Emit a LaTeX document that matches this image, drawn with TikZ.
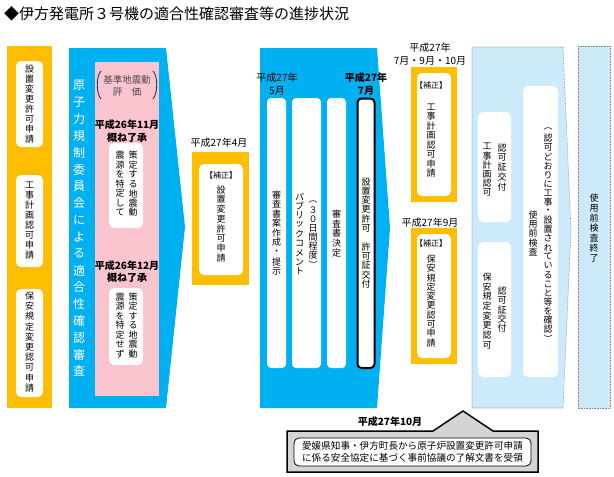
\documentclass[tikz,border=0pt]{standalone}
\usepackage{fontspec}
\setmainfont{Noto Sans CJK JP}
\definecolor{orng}{RGB}{255,190,0}
\definecolor{blu}{RGB}{0,176,240}
\definecolor{pnk}{RGB}{250,196,206}
\definecolor{lblu}{RGB}{204,234,250}
\definecolor{calgray}{RGB}{212,212,212}
\definecolor{brk}{RGB}{40,50,110}
\newlength\vtp
\def\vtstop{\vtstop}
\def\vtloop#1{\ifx#1\vtstop\else\vbox to\vtp{\vss\hbox to 1em{\hss#1\hss}\vss}\expandafter\vtloop\fi}
\newcommand\vtext[2][9.6pt]{\setlength\vtp{#1}\vbox{\offinterlineskip\vtloop#2\vtstop}}
\tikzset{
  lab/.style={inner sep=0pt, font=\fontsize{10}{13}\selectfont, align=center},
  vt/.style={inner sep=0pt, font=\fontsize{9}{10}\selectfont},
  wbox/.style={fill=white, rounded corners=5pt},
  lbshape/.style={fill=lblu, draw=gray, densely dotted, line width=0.6pt},
}
\begin{document}
\begin{tikzpicture}[x=1pt,y=-1pt]
\useasboundingbox (0,0) rectangle (614,477);
\fill[white] (0,0) rectangle (614,477);
% title
\node[anchor=west, inner sep=0pt, font=\fontsize{15}{15}\selectfont] (title) at (4,14) {◆伊方発電所３号機の適合性確認審査等の進捗状況};

% left orange column
\fill[orng] (7,46) rectangle (52,408);
\fill[wbox] (16,61) rectangle (43,147);
\fill[wbox] (16,175) rectangle (43,267);
\fill[wbox] (16,289) rectangle (43,397);
\node[vt] (l1) at (29.5,104.5) {\vtext[10pt]{設置変更許可申請}};
\node[vt] (l2) at (29.5,220) {\vtext[10pt]{工事計画認可申請}};
\node[vt] (l3) at (29.5,342) {\vtext[10.2pt]{保安規定変更認可申請}};

% blue pentagon 1
\fill[blu] (69,48) -- (166,48) -- (185,227) -- (166,408) -- (69,408) -- cycle;
\node[vt, text=white, font=\fontsize{12}{12}\selectfont] (nra) at (79,228.5) {\vtext[16.8pt]{原子力規制委員会による適合性確認審査}};
\fill[pnk] (95,62) rectangle (159,396);
\draw[brk, line width=0.9pt] (101,71) .. controls (96,76) and (96,93) .. (101,99);
\draw[brk, line width=0.9pt] (153,71) .. controls (158,76) and (158,93) .. (153,99);
\node[lab, font=\fontsize{9.5}{12}\selectfont, text=black!70] (kijun) at (127,86) {基準地震動\\評　価};
\node[lab, font=\bfseries\fontsize{10}{12.5}\selectfont] (d1) at (127,131) {平成26年11月\\概ね了承};
\fill[wbox] (109,143) rectangle (143,228);
\node[vt] (p1r) at (133,184) {\vtext[9.5pt]{策定する地震動}};
\node[vt] (p1l) at (120,184) {\vtext[9.5pt]{震源を特定して}};
\node[lab, font=\bfseries\fontsize{10}{12.5}\selectfont] (d2) at (127,271.5) {平成26年12月\\概ね了承};
\fill[wbox] (109,288) rectangle (143,365);
\node[vt] (p2r) at (133,325.5) {\vtext[9.5pt]{策定する地震動}};
\node[vt] (p2l) at (120,325.5) {\vtext[9.5pt]{震源を特定せず}};

% orange box 2015.4
\node[lab] (d4) at (219,143) {平成27年4月};
\fill[orng] (192,152) rectangle (249,285);
\fill[wbox] (199,164) rectangle (243,275);
\node[lab, font=\fontsize{8}{8}\selectfont] (h1) at (221,175) {【補正】};
\node[vt] (o2) at (221,224) {\vtext[9.7pt]{設置変更許可申請}};

% blue pentagon 2
\fill[blu] (260,48) -- (377,48) -- (390,228) -- (377,408) -- (260,408) -- cycle;
\node[lab] (d5) at (277,84.5) {平成27年\\5月};
\node[lab, font=\bfseries\fontsize{10}{13}\selectfont] (d7) at (366,84.5) {平成27年\\7月};
\fill[wbox, rounded corners=4pt] (267,98) rectangle (286,368);
\fill[wbox, rounded corners=4pt] (292,98) rectangle (321,368);
\fill[wbox, rounded corners=4pt] (327,98) rectangle (346,368);
\filldraw[fill=white, draw=black, line width=2pt, rounded corners=4pt] (357.5,98.5) rectangle (374.5,368);
\node[vt] (c1) at (276.5,233) {\vtext{審査書案作成・提示}};
\node[vt] (c2l) at (299.5,234) {\vtext[9.4pt]{パブリックコメント}};
\node[vt] (c2r) at (313,233) {\vtext[9pt]{︵３０日間程度︶}};
\node[vt] (c3) at (336.5,233.5) {\vtext{審査書決定}};
\node[vt] (c4) at (366,233) {\vtext[9.3pt]{設置変更許可　許可証交付}};

% orange box 3
\node[lab] (d79) at (430,54.5) {平成27年\\7月・9月・10月};
\fill[orng] (411,67) rectangle (457,202);
\fill[wbox] (417,73) rectangle (451,196);
\node[lab, font=\fontsize{8}{8}\selectfont] (h2) at (431,85) {【補正】};
\node[vt] (o3) at (431,140) {\vtext[9.5pt]{工事計画認可申請}};

% orange box 4
\node[lab] (d9) at (430,223) {平成27年9月};
\fill[orng] (411,228) rectangle (457,364);
\fill[wbox] (417,234) rectangle (451,358);
\node[lab, font=\fontsize{8}{8}\selectfont] (h3) at (431,243) {【補正】};
\node[vt] (o4) at (431,301) {\vtext[9.3pt]{保安規定変更認可申請}};

% light blue pentagon
\path[lbshape] (472,47) -- (563,47) -- (571,230) -- (563,408) -- (472,408) -- cycle;
\fill[wbox] (478,112) rectangle (511,222);
\fill[wbox] (478,242) rectangle (511,377);
\fill[wbox] (523,86) rectangle (558,377);
\node[vt] (ar) at (502,167.5) {\vtext[9.8pt]{認可証交付}};
\node[vt] (al) at (487,169.5) {\vtext[9.2pt]{工事計画認可}};
\node[vt] (br) at (502,310) {\vtext[9.3pt]{認可証交付}};
\node[vt] (bl) at (487,311) {\vtext[9.7pt]{保安規定変更認可}};
\node[vt] (cr) at (548,234) {\vtext[9.1pt]{︵認可どおりに工事・設置されていること等を確認︶}};
\node[vt] (cl) at (533,233.5) {\vtext[9.4pt]{使用前検査}};

% right rectangle
\path[lbshape] (578,46) rectangle (610,408);
\node[vt] (fin) at (594,228) {\vtext[10pt]{使用前検査終了}};

% callout
\filldraw[fill=calgray, draw=black, line width=1.5pt, line join=miter] (287,431) -- (433,431) -- (463,411) -- (493,431) -- (538,431) -- (538,472) -- (287,472) -- cycle;
\filldraw[fill=white, draw=black, line width=0.8pt, rounded corners=5pt] (294,438) rectangle (531,466);
\node[lab, font=\fontsize{9.6}{12}\selectfont] (cb) at (412.5,452) {愛媛県知事・伊方町長から原子炉設置変更許可申請\\に係る安全協定に基づく事前協議の了解文書を受領};
\node[lab, font=\bfseries\fontsize{10}{12}\selectfont] (d10) at (390,422) {平成27年10月};
\end{tikzpicture}
\end{document}
